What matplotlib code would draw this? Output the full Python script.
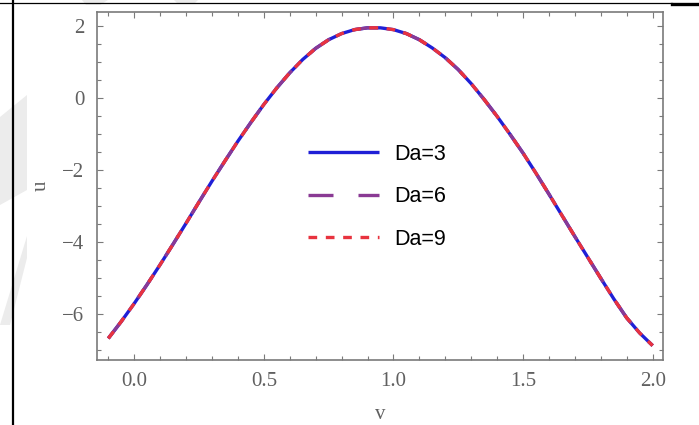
import matplotlib
matplotlib.use("Agg")
import matplotlib.pyplot as plt
from matplotlib.lines import Line2D
from matplotlib.patches import Polygon
from matplotlib.ticker import MultipleLocator

# velocity profile u(v), curves for the three Darcy numbers coincide
v = [-0.10, -0.05, 0.00, 0.05, 0.10, 0.15, 0.20, 0.25, 0.30, 0.35, 0.40,
     0.45, 0.50, 0.55, 0.60, 0.65, 0.70, 0.75, 0.80, 0.85, 0.90, 0.95,
     1.00, 1.05, 1.10, 1.15, 1.20, 1.25, 1.30, 1.35, 1.40, 1.45, 1.50,
     1.55, 1.60, 1.65, 1.70, 1.75, 1.80, 1.85, 1.90, 1.95, 2.00]
u_da3 = [-6.67, -6.20, -5.70, -5.17, -4.62, -4.05, -3.47, -2.88, -2.30,
         -1.74, -1.19, -0.67, -0.17, 0.29, 0.71, 1.08, 1.39, 1.63, 1.80,
         1.91, 1.96, 1.96, 1.91, 1.80, 1.63, 1.40, 1.13, 0.80, 0.41,
         -0.03, -0.50, -1.00, -1.52, -2.08, -2.66, -3.25, -3.84, -4.42,
         -5.00, -5.57, -6.10, -6.52, -6.87]
u_da6 = list(u_da3)
u_da9 = list(u_da3)

labels = ["Da=3", "Da=6", "Da=9"]
xticks = [0.0, 0.5, 1.0, 1.5, 2.0]
yticks = [-6, -4, -2, 0, 2]

W, H = 699, 425
fig = plt.figure(figsize=(W / 100, H / 100), dpi=100)
fig.patch.set_facecolor("white")

# faint background marks and the table rule on the left
wm = "#ececec"
for pts in ([(0, 117), (27, 95), (27, 190), (0, 205)],
            [(0, 325), (27, 236), (27, 258), (10, 325)],
            [(82, 0), (108, 0), (100, 5), (86, 5)],
            [(174, 0), (198, 0), (194, 4), (178, 4)]):
    fig.patches.append(Polygon([(x / W, 1 - y / H) for x, y in pts],
                               closed=True, transform=fig.transFigure,
                               facecolor=wm, edgecolor="none", zorder=0))
fig.add_artist(Line2D([13 / W, 13 / W], [0, 1], color="black", lw=1.6))
fig.add_artist(Line2D([0, 672 / W], [1 - 2.5 / H, 1 - 2.5 / H],
                      color="black", lw=0.9))
fig.add_artist(Line2D([672 / W, 1], [1 - 3.5 / H, 1 - 3.5 / H],
                      color="black", lw=2.4))

ax = fig.add_axes([97 / W, 1 - 360 / H, (663 - 97) / W, (360 - 12) / H])

ax.plot(v, u_da3, color="#1f1fd6", lw=2.4, label=labels[0],
        solid_capstyle="butt", solid_joinstyle="round")
ax.plot(v, u_da6, color="#8a3a94", lw=2.4, label=labels[1],
        dashes=(7.5, 7.5))
ax.plot(v, u_da9, color="#e8333f", lw=2.4, label=labels[2],
        dashes=(2.6, 2.6))

ax.set_xlim(-0.1436, 2.040)
ax.set_ylim(-7.27, 2.40)
ax.set_xticks(xticks)
ax.set_yticks(yticks)
ax.xaxis.set_minor_locator(MultipleLocator(0.1))
ax.yaxis.set_minor_locator(MultipleLocator(0.5))
ax.set_xticklabels([f"{t:.1f}" for t in xticks])
ax.set_yticklabels([f"{t}".replace("-", "\u2212") for t in yticks])

frame = "#7a7a7a"
for s in ax.spines.values():
    s.set_color(frame)
    s.set_linewidth(1.2)
ax.tick_params(which="both", direction="in", top=True, right=True,
               color=frame, width=0.8)
ax.tick_params(which="major", length=4.5, pad=9)
ax.tick_params(which="minor", length=2.6)
for lab in ax.get_xticklabels() + ax.get_yticklabels():
    lab.set_family("Liberation Serif")
    lab.set_fontsize(15)
    lab.set_color("#606060")

ax.set_xlabel("v", family="Liberation Serif", fontsize=15, color="#606060",
              labelpad=10)
ax.set_ylabel("u", family="Liberation Serif", fontsize=15, color="#606060",
              labelpad=8)

ax.legend(loc="upper left", bbox_to_anchor=(308 / W, 1 - 144 / H),
          bbox_transform=fig.transFigure, frameon=False, borderpad=0,
          borderaxespad=0, handlelength=3.3, handletextpad=0.7,
          labelspacing=0.99,
          prop={"family": "Liberation Sans", "size": 15.5})

fig.savefig("out.png", dpi=100, facecolor="white")
